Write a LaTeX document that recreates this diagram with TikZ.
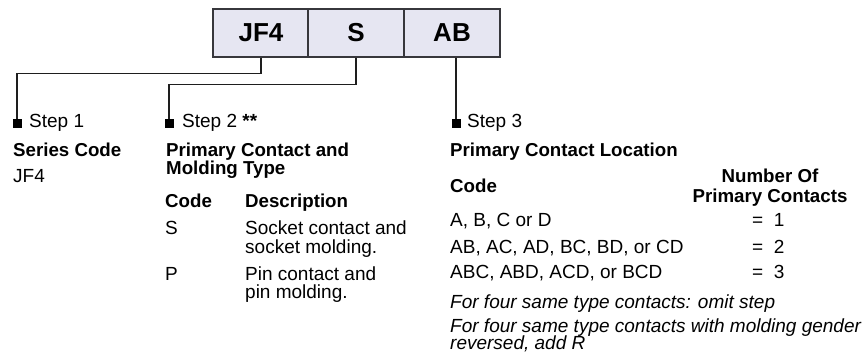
\documentclass[tikz,border=0pt]{standalone}
\usepackage{fontspec}
\setmainfont{Liberation Sans}
\definecolor{boxfill}{RGB}{230,230,242}
\definecolor{boxline}{RGB}{55,55,60}
\definecolor{leadcol}{RGB}{30,30,30}
\begin{document}
\begin{tikzpicture}[x=1pt,y=-1pt,
  codebox/.style={draw=boxline, fill=boxfill, line width=1.4pt, minimum width=96pt, minimum height=48pt, inner sep=0pt, font=\fontsize{26}{26}\selectfont\bfseries},
  txt/.style={anchor=base west, inner sep=0pt, font=\fontsize{19}{19}\selectfont},
  btxt/.style={anchor=base west, inner sep=0pt, font=\fontsize{18.7}{19}\selectfont\bfseries},
  itxt/.style={anchor=base west, inner sep=0pt, font=\fontsize{19}{19}\selectfont\itshape},
  ctxt/.style={anchor=base, inner sep=0pt, font=\fontsize{18.7}{19}\selectfont\bfseries},
  lead/.style={line width=1.3pt, draw=leadcol},
  marker/.style={fill=black, minimum size=9pt, inner sep=0pt}
]
\useasboundingbox (0,0) rectangle (862,358);

% code boxes
\node[codebox] (b1) at (261,33) {JF4};
\node[codebox] (b2) at (356,33) {S};
\node[codebox] (b3) at (452,33) {AB};

% markers
\node[marker] (m1) at (17,123.5) {};
\node[marker] (m2) at (169,123.5) {};
\node[marker] (m3) at (456,123.5) {};

% leaders
\draw[lead] (b1.south) -- ++(0,16) -| (m1.north);
\draw[lead] (b2.south) -- ++(0,27) -| (m2.north);
\draw[lead] ([xshift=4pt]b3.south) -- (m3.north);

% step 1
\node[txt] (s1) at (29,128) {Step 1};
\node[btxt] (s1t) at (13,157) {Series Code};
\node[txt] (s1v) at (13,183) {JF4};

% step 2
\node[txt] (s2) at (182,128) {Step 2 \textbf{**}};
\node[btxt] (s2t1) at (166,157) {Primary Contact and};
\node[btxt] (s2t2) at (166,175) {Molding Type};
\node[btxt] (s2c) at (165,208) {Code};
\node[btxt] (s2d) at (245,208) {Description};
\node[txt] (s2r1c) at (165,234) {S};
\node[txt] (s2r1a) at (245,234) {Socket contact and};
\node[txt] (s2r1b) at (245,253) {socket molding.};
\node[txt] (s2r2c) at (165,280) {P};
\node[txt] (s2r2a) at (245,280) {Pin contact and};
\node[txt] (s2r2b) at (245,298) {pin molding.};

% step 3
\node[txt] (s3) at (467,128) {Step 3};
\node[btxt] (s3t) at (450,157) {Primary Contact Location};
\node[btxt] (s3c) at (450,193) {Code};
\node[ctxt] (s3n1) at (770,183) {Number Of};
\node[ctxt] (s3n2) at (770,203) {Primary Contacts};
\node[txt] (r1) at (450,227) {A, B, C or D};
\node[txt] (r1n) at (752,227) {=\ \ 1};
\node[txt] (r2) at (450,253) {AB, AC, AD, BC, BD, or CD};
\node[txt] (r2n) at (752,253) {=\ \ 2};
\node[txt] (r3) at (450,278) {ABC, ABD, ACD, or BCD};
\node[txt] (r3n) at (752,278) {=\ \ 3};
\node[itxt] (n1) at (450,308) {For four same type contacts: omit step};
\node[itxt] (n2) at (450,332) {For four same type contacts with molding gender};
\node[itxt] (n3) at (450,349) {reversed, add R};
\end{tikzpicture}
\end{document}
